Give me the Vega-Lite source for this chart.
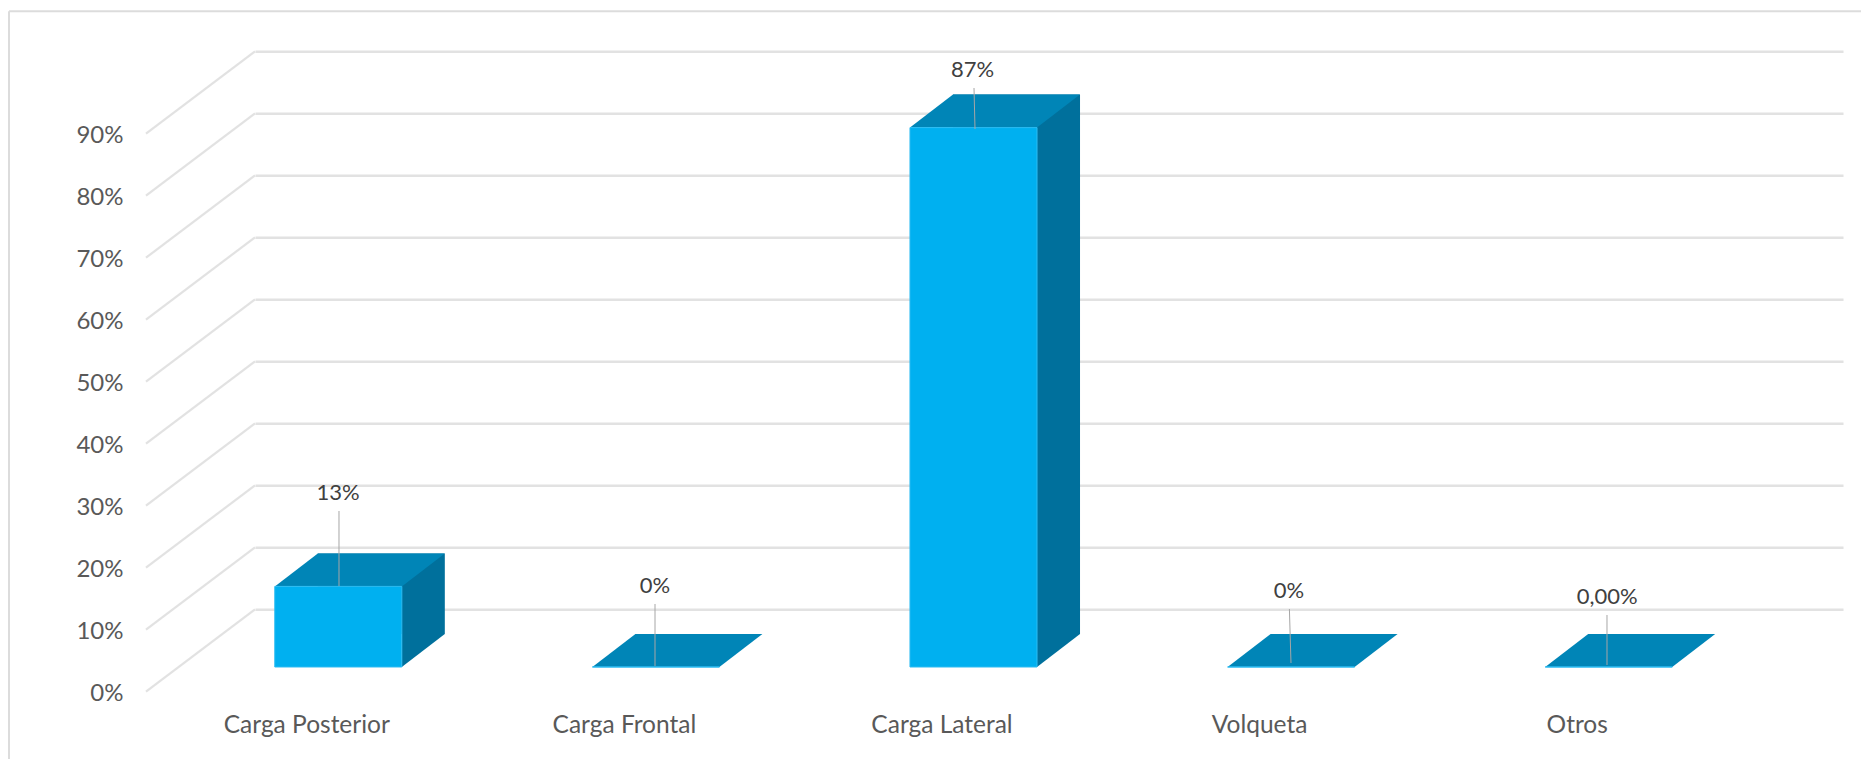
{
"$schema":"https://vega.github.io/schema/vega-lite/v6.json",
"width":1588,"height":558,
"autosize":{"type":"none"},
"padding":{"left":255,"top":51.3,"right":18,"bottom":149.7},
"background":"white",
"config":{"view":{"stroke":null},"font":"Lato"},
"datasets":{
"rows":[
{"category":"Carga Posterior","value":0.13,"label":"13%"},
{"category":"Carga Frontal","value":0,"label":"0%"},
{"category":"Carga Lateral","value":0.87,"label":"87%"},
{"category":"Volqueta","value":0,"label":"0%"},
{"category":"Otros","value":0,"label":"0,00%"}],
"ticks":[{"tick":0},{"tick":0.1},{"tick":0.2},{"tick":0.3},{"tick":0.4},{"tick":0.5},{"tick":0.6},{"tick":0.7},{"tick":0.8},{"tick":0.9}]
},
"data":{"name":"rows"},
"encoding":{
"x":{"field":"category","type":"nominal","sort":null,"title":null,
"scale":{"paddingInner":0.6,"paddingOuter":0.3},
"axis":{"domain":false,"ticks":false,"grid":false,"labelAngle":0,"labelFontSize":24.5,"labelColor":"#595959","labelOffset":-107,"labelPadding":104,"labelFont":"Lato","labelOverlap":false,"labelBound":false,"labelFlush":false}},
"y":{"field":"value","type":"quantitative","stack":null,"title":null,
"scale":{"domain":[0,0.9],"nice":false},
"axis":{"values":[0,0.1,0.2,0.3,0.4,0.5,0.6,0.7,0.8,0.9],"format":".0%","domain":false,"ticks":false,"grid":true,"gridColor":"#e2e2e2","gridWidth":2.5,"labelFontSize":24,"labelColor":"#595959","labelOffset":84,"labelPadding":132,"labelFont":"Lato","labelBound":false,"labelFlush":false}}
},
"layer":[
{"data":{"name":"ticks"},
 "mark":{"type":"point","shape":"M0,0L-109,82.4","size":4,"filled":false,"stroke":"#e2e2e2","strokeWidth":2.2,"opacity":1},
 "encoding":{"x":{"value":0},"y":{"field":"tick","type":"quantitative"}}},
{"mark":{"type":"rule","stroke":"#dcdcdc","strokeWidth":2},
 "data":{"values":[{"a":1}]},
 "encoding":{"x":{"value":-246},"y":{"value":-40},"y2":{"value":708}}},
{"mark":{"type":"rule","stroke":"#dcdcdc","strokeWidth":2},
 "data":{"values":[{"a":1}]},
 "encoding":{"x":{"value":-246},"x2":{"value":1606},"y":{"value":-40}}},
{"mark":{"type":"bar","fill":"#00709c","xOffset":-32.5,"x2Offset":-32.5,"yOffset":24.7,"y2Offset":24.7},
 "encoding":{"y2":{"datum":0}}},
{"transform":[{"filter":"datum.value > 0"}],
 "mark":{"type":"point","shape":"M63.5,57.7L106.5,24.7L63.5,24.7Z","size":4,"filled":true,"fill":"#00709c","opacity":1,"xOffset":-75.5},
 "encoding":{"y":{"datum":0}}},
{"mark":{"type":"point","shape":"M-63.5,57.7L63.5,57.7L106.5,24.7L-20.5,24.7Z","size":4,"filled":true,"fill":"#0085b7","opacity":1,"xOffset":-75.5}},
{"mark":{"type":"bar","fill":"#00b0f0","stroke":"#2cbcf2","strokeWidth":1,"xOffset":-75.5,"x2Offset":-75.5,"yOffset":57.7,"y2Offset":57.7},
 "encoding":{"y2":{"datum":0}}},
{"mark":{"type":"point","size":4,"filled":false,"stroke":"#a6a6a6","strokeWidth":1,"opacity":1,"xOffset":-75.5},
 "encoding":{"shape":{"field":"category","type":"nominal","legend":null,
 "scale":{"domain":["Carga Posterior","Carga Frontal","Carga Lateral","Volqueta","Otros"],
 "range":["M0.7,-17.7L0.7,57.3","M-0.9,-5.3L-0.9,56.7","M0.5,18.1L1.5,59.1","M-1.7,-0.3L-0.1,53.7","M-1.7,5.7L-1.7,55.7"]}}}},
{"transform":[{"filter":"datum.category === 'Carga Posterior'"}],
 "mark":{"type":"text","dx":-75.8,"dy":-36,"fontSize":22,"font":"Lato","fill":"#404040","baseline":"middle"},
 "encoding":{"text":{"field":"label"}}},
{"transform":[{"filter":"datum.category === 'Carga Frontal'"}],
 "mark":{"type":"text","dx":-76.4,"dy":-23.3,"fontSize":22,"font":"Lato","fill":"#404040","baseline":"middle"},
 "encoding":{"text":{"field":"label"}}},
{"transform":[{"filter":"datum.category === 'Carga Lateral'"}],
 "mark":{"type":"text","dx":-76.5,"dy":0,"fontSize":22,"font":"Lato","fill":"#404040","baseline":"middle"},
 "encoding":{"text":{"field":"label"}}},
{"transform":[{"filter":"datum.category === 'Volqueta'"}],
 "mark":{"type":"text","dx":-77.6,"dy":-18,"fontSize":22,"font":"Lato","fill":"#404040","baseline":"middle"},
 "encoding":{"text":{"field":"label"}}},
{"transform":[{"filter":"datum.category === 'Otros'"}],
 "mark":{"type":"text","dx":-77,"dy":-12,"fontSize":22,"font":"Lato","fill":"#404040","baseline":"middle"},
 "encoding":{"text":{"field":"label"}}}
]
}
